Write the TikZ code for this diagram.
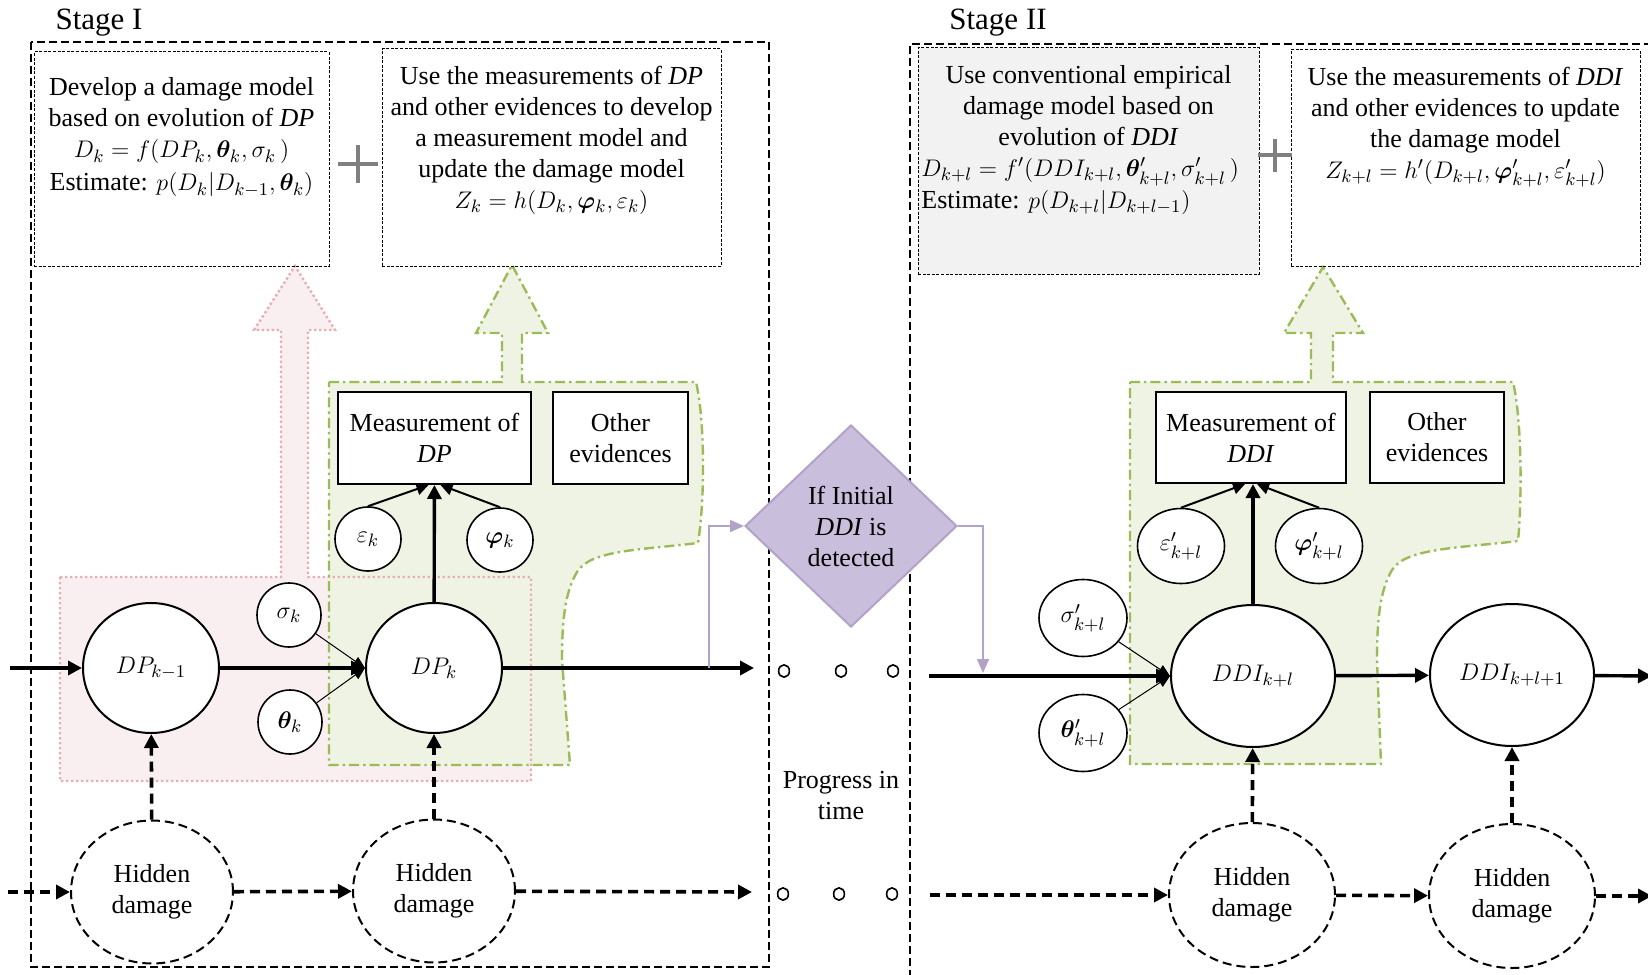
\documentclass[tikz,border=0pt]{standalone}
\usepackage{amsmath,bm}
\usepackage{fontspec}
\setmainfont{Liberation Serif}
\usetikzlibrary{shapes.geometric,arrows.meta}
\definecolor{pinkfill}{HTML}{F9EEF0}
\definecolor{pinkline}{HTML}{E6B0B2}
\definecolor{greenfill}{HTML}{EEF3E3}
\definecolor{greenline}{HTML}{9BBB59}
\definecolor{grayfill}{HTML}{F2F2F2}
\definecolor{plusgray}{HTML}{808080}
\definecolor{decfill}{HTML}{C9BFDC}
\definecolor{decline}{HTML}{B3A2C7}
\newcommand{\pinkregion}{(60,577) -- (281,577) -- (281,330) -- (254,330) -- (295,266) -- (335,330) -- (308,330) -- (308,577) -- (531,577) -- (531,781) -- (60,781) -- cycle}
\newcommand{\greenregionA}{(329,382) -- (502,382) -- (502,333) -- (476,333) -- (512,265) -- (548,333) -- (522,333) -- (522,382) -- (696,382) .. controls (705,420) and (705,500) .. (698,543) .. controls (640,550) and (590,550) .. (577,572) .. controls (565,592) and (562,620) .. (562,660) -- (570,765) -- (329,765) -- cycle}
\newcommand{\greenregionB}{(1130,382) -- (1311,382) -- (1311,333) -- (1284,333) -- (1323,267) -- (1363,333) -- (1333,333) -- (1333,382) -- (1513,382) .. controls (1522,420) and (1522,500) .. (1518,541) .. controls (1460,548) and (1405,548) .. (1392,570) .. controls (1380,590) and (1377,620) .. (1377,660) -- (1381,764) -- (1130,764) -- cycle}
\tikzset{
  stagebox/.style={draw, line width=0.6pt, dash pattern=on 4pt off 2pt},
  notebox/.style={draw, line width=0.5pt, dash pattern=on 1.5pt off 0.8pt, inner sep=0pt},
  notetext/.style={anchor=north, align=center, inner sep=0pt},
  state/.style={ellipse, draw, line width=1pt, fill=white, inner sep=0pt},
  param/.style={ellipse, draw, line width=0.8pt, fill=white, inner sep=0pt},
  hidden/.style={ellipse, draw, line width=1pt, dash pattern=on 4.5pt off 2.5pt, fill=white, align=center, inner sep=0pt},
  obsbox/.style={draw, line width=1pt, fill=white, align=center, inner sep=0pt},
  decision/.style={diamond, draw=decline, line width=1pt, fill=decfill, align=center, inner sep=0pt, minimum width=106pt, minimum height=101pt},
  flow/.style={line width=1.7pt, -{Triangle[length=7pt,width=7pt]}},
  midflow/.style={line width=1pt, -{Triangle[length=6pt,width=6pt]}},
  thinflow/.style={line width=0.5pt, -{Triangle[length=6pt,width=5pt]}},
  hidflow/.style={line width=1.8pt, dash pattern=on 5pt off 3pt, -{Triangle[length=7pt,width=7pt]}},
  purpleflow/.style={draw=decline, line width=0.8pt, -{Triangle[length=7pt,width=6pt]}},
  plussign/.style={draw=plusgray, line width=2pt},
  pinkedge/.style={draw=pinkline, line width=1.2pt, dash pattern=on 1.2pt off 1.3pt},
  greenedge/.style={draw=greenline, line width=1.2pt, dash pattern=on 5pt off 2pt on 1.2pt off 2pt}
}
\begin{document}
\begin{tikzpicture}[x=0.5pt, y=-0.5pt, font=\fontsize{13}{15.5}\selectfont]
    \useasboundingbox (0,0) rectangle (1648,974);
    \node[font=\fontsize{15.5}{18}\selectfont] (stageI) at (99,23) {Stage I};
    \node[font=\fontsize{15.5}{18}\selectfont] (stageII) at (998,23) {Stage II};
    \draw[stagebox] (31,42) rectangle (769,967);
    \draw[stagebox] (1652,44) -- (910,44) -- (910,978);

    \fill[pinkfill] \pinkregion;
    \fill[greenfill] \greenregionA;
    \fill[greenfill] \greenregionB;
    \path[pinkedge] \pinkregion;
    \path[greenedge] \greenregionA;
    \path[greenedge] \greenregionB;

    \node[notebox, minimum width=147.5pt, minimum height=107pt] (devbox) at (181.5,159) {};
    \node[notetext] (devtext) at ([yshift=-13pt]devbox.north) {Develop a damage model\\based on evolution of \textit{DP}\\$D_k=f(DP_k,\bm{\theta}_k,\sigma_k\,)$\\[1pt]Estimate: $p(D_k|D_{k-1},\bm{\theta}_k)$};
    \node[notebox, minimum width=169.5pt, minimum height=108.5pt] (measmodel) at (551.5,157.5) {};
    \node[notetext] (measmodeltext) at ([yshift=-8.5pt]measmodel.north) {Use the measurements of \textit{DP}\\and other evidences to develop\\a measurement model and\\update the damage model\\$Z_k=h(D_k,\bm{\varphi}_k,\varepsilon_k)$};
    \node[notebox, fill=grayfill, minimum width=170.5pt, minimum height=113pt] (empbox) at (1088.5,161) {};
    \node[notetext] (emptext) at ([yshift=-9pt]empbox.north) {Use conventional empirical\\damage model based on\\evolution of \textit{DDI}};
    \node[anchor=west, inner sep=0pt] (empformula) at (921,172) {$D_{k+l}=f'(DDI_{k+l},\bm{\theta}'_{k+l},\sigma'_{k+l}\,)$};
    \node[anchor=west, inner sep=0pt] (empestimate) at (921,202) {Estimate: $p(D_{k+l}|D_{k+l-1})$};
    \node[notebox, minimum width=174.5pt, minimum height=108pt] (updbox) at (1465.5,158) {};
    \node[notetext] (updtext) at ([yshift=-8.5pt]updbox.north) {Use the measurements of \textit{DDI}\\and other evidences to update\\the damage model\\$Z_{k+l}=h'(D_{k+l},\bm{\varphi}'_{k+l},\varepsilon'_{k+l})$};
    \draw[plussign] (338,164) -- (378,164) (358,145) -- (358,183);
    \draw[plussign] (1258,155) -- (1292,155) (1275,139) -- (1275,172);

    \node[obsbox, minimum width=96.5pt, minimum height=46pt] (measDP) at (434.5,438) {Measurement of\\\textit{DP}};
    \node[obsbox, minimum width=67.5pt, minimum height=46pt] (otherA) at (620.5,438) {Other\\evidences};
    \node[obsbox, minimum width=95pt, minimum height=45.5pt] (measDDI) at (1251,437.5) {Measurement of\\\textit{DDI}};
    \node[obsbox, minimum width=67pt, minimum height=45.5pt] (otherB) at (1437,437.5) {Other\\evidences};

    \node[state, minimum width=68pt, minimum height=65pt] (DPprev) at (151,668) {$DP_{k-1}$};
    \node[state, minimum width=68pt, minimum height=65pt] (DPk) at (434,668) {$DP_k$};
    \node[state, minimum width=82pt, minimum height=71pt] (DDIa) at (1253,676) {$DDI_{k+l}$};
    \node[state, minimum width=82pt, minimum height=71pt] (DDIb) at (1512,675) {$DDI_{k+l+1}$};

    \node[param, minimum width=32pt, minimum height=32pt] (sigk) at (289,615) {$\sigma_k$};
    \node[param, minimum width=32pt, minimum height=32pt] (thetak) at (290,722) {$\bm{\theta}_k$};
    \node[param, minimum width=33pt, minimum height=32pt] (epsk) at (368,539) {$\varepsilon_k$};
    \node[param, minimum width=33pt, minimum height=32pt] (phik) at (500,540) {$\bm{\varphi}_k$};
    \node[param, minimum width=44pt, minimum height=38.5pt] (sigl) at (1083,618) {$\sigma'_{k+l}$};
    \node[param, minimum width=44pt, minimum height=38.5pt] (thetal) at (1083,733) {$\bm{\theta}'_{k+l}$};
    \node[param, minimum width=43.5pt, minimum height=37.5pt] (epsl) at (1181,546) {$\varepsilon'_{k+l}$};
    \node[param, minimum width=43.5pt, minimum height=37.5pt] (phil) at (1319,546) {$\bm{\varphi}'_{k+l}$};

    \node[hidden, minimum width=81pt, minimum height=71.5pt] (hidA) at (152,892) {Hidden\\damage};
    \node[hidden, minimum width=81pt, minimum height=71.5pt] (hidB) at (434,891) {Hidden\\damage};
    \node[hidden, minimum width=83pt, minimum height=72pt] (hidC) at (1252,895) {Hidden\\damage};
    \node[hidden, minimum width=83pt, minimum height=72pt] (hidD) at (1512,896) {Hidden\\damage};

    \node[decision] (decide) at (851,526) {If Initial\\\textit{DDI} is\\detected};
    \node[align=center] (progress) at (841,796) {Progress in\\time};
    \foreach \x in {784,841,893} \draw[line width=0.8pt] (\x,671) ellipse (2.7pt and 3.1pt);
    \foreach \x in {783,839,892} \draw[line width=0.8pt] (\x,894) ellipse (2.7pt and 3.1pt);

    \coordinate (inA) at (10,668);
    \coordinate (outA) at (754,668);
    \coordinate (branch) at (709,668);
    \coordinate (inB) at (929,676);
    \coordinate (drop) at (983,673);
    \coordinate (outB) at (1652,676);
    \coordinate (hinA) at (8,892);
    \coordinate (houtA) at (752,892);
    \coordinate (hinB) at (930,895);
    \coordinate (houtB) at (1652,896);

    \draw[flow] (inA) -- (DPprev);
    \draw[flow] (DPprev) -- (DPk);
    \draw[thinflow] (sigk) -- (DPk.west);
    \draw[thinflow] (thetak) -- (DPk.west);
    \draw[flow] (DPk) -- (outA);
    \draw[flow] (DPk) -- (measDP);
    \draw[midflow] (epsk.north) -- ([xshift=-3pt]measDP.south);
    \draw[midflow] (phik.north) -- ([xshift=3pt]measDP.south);
    \draw[purpleflow] (branch) |- (decide.west);
    \draw[purpleflow] (decide.east) -| (drop);

    \draw[flow] (inB) -- (DDIa);
    \draw[thinflow] (sigl) -- (DDIa.west);
    \draw[thinflow] (thetal) -- (DDIa.west);
    \draw[flow] (DDIa) -- (DDIb);
    \draw[flow] (DDIb) -- (outB);
    \draw[flow] (DDIa.north) -- (DDIa.north |- measDDI.south);
    \draw[midflow] (epsl.north) -- ([xshift=-3pt]measDDI.south);
    \draw[midflow] (phil.north) -- ([xshift=3pt]measDDI.south);

    \draw[hidflow] (hinA) -- (hidA);
    \draw[hidflow] (hidA) -- (hidB);
    \draw[hidflow] (hidB) -- (houtA);
    \draw[hidflow] (hinB) -- (hidC);
    \draw[hidflow] (hidC) -- (hidD);
    \draw[hidflow] (hidD) -- (houtB);
    \draw[hidflow] (hidA) -- (DPprev);
    \draw[hidflow] (hidB) -- (DPk);
    \draw[hidflow] (hidC) -- (DDIa);
    \draw[hidflow] (hidD) -- (DDIb);
\end{tikzpicture}
\end{document}
